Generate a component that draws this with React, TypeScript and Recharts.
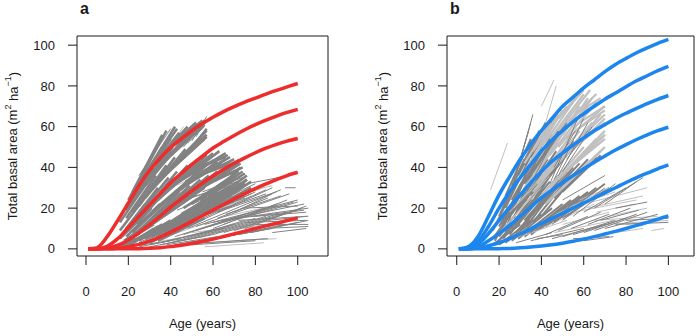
import React from "react"
import { LineChart, Line, XAxis, YAxis, ReferenceArea } from "recharts"

const curveAges = [1, 5, 10, 15, 20, 25, 30, 35, 40, 45, 50, 55, 60, 65, 70, 75, 80, 85, 90, 95, 100]

// panel a: five red fitted curves
const redCurves = [
  [0, 0.5, 6, 14, 22.5, 31, 38.5, 44.5, 49.8, 54, 58, 61.5, 64.6, 67.4, 69.8, 72, 74, 76, 77.8, 79.5, 81.2],
  [0, 0, 1.3, 5, 10.5, 16, 21.5, 27, 32.5, 37, 41.5, 45.5, 49.5, 52.7, 55.7, 58.5, 61, 63.2, 65.2, 67, 68.5],
  [0, 0, 0.4, 1.8, 4.4, 7.8, 11.8, 16, 20.5, 24.5, 28.5, 32.3, 35.8, 39, 42, 44.7, 47.2, 49.4, 51.3, 52.9, 54.2],
  [0, 0, 0, 0.3, 1.1, 2.2, 3.8, 5.8, 8.2, 10.8, 13.5, 16.3, 19, 21.8, 24.5, 27.1, 29.6, 31.9, 34, 36, 37.6],
  [0, 0, 0, 0, 0, 0.1, 0.3, 0.6, 1.1, 1.8, 2.6, 3.6, 4.8, 6.1, 7.4, 8.7, 10, 11.3, 12.6, 13.9, 15.2],
]

// panel b: six blue fitted curves
const blueCurves = [
  [0, 0.8, 6, 16, 26.5, 35.5, 44, 51.5, 58, 64, 70, 74.5, 79, 83, 87, 90.5, 93.5, 96.3, 98.7, 100.9, 102.8],
  [0, 0.3, 3.5, 11, 20, 28, 35, 41.5, 48, 53.5, 58, 62.5, 66.3, 70, 73.5, 76.5, 79.6, 82.5, 85, 87.5, 89.6],
  [0, 0, 2.2, 7.5, 14, 20.5, 26.5, 32.5, 38, 43, 47, 51, 54.5, 58, 61, 64, 66.6, 69, 71.3, 73.4, 75.3],
  [0, 0, 0.9, 4, 7.5, 11.5, 16, 20.5, 25, 29, 32.5, 36, 39.3, 42.5, 45.6, 48.5, 51.2, 53.7, 56, 58, 59.7],
  [0, 0, 0.4, 1.5, 3, 5, 7.3, 9.8, 12.5, 15, 17.5, 20, 22.5, 25, 27.5, 30, 32.6, 35, 37.2, 39.3, 41.2],
  [0, 0, 0, 0, 0.1, 0.2, 0.5, 0.9, 1.4, 2, 2.8, 3.7, 4.8, 6, 7.3, 8.6, 10, 11.5, 13, 14.6, 16.2],
]

// observed plot trajectories: [first age, first BA, last age, last BA]
// panel a, the crowded core of remeasured plots
const plotsACore = [
  [16, 2, 32, 12], [16, 5, 31, 20], [16, 9, 30, 28], [16, 13, 29, 33],
  [19, 2, 36, 12], [19, 6, 35, 22], [19, 10, 34, 30], [19, 15, 33, 36], [19, 19, 32, 40],
  [22, 3, 40, 14], [22, 8, 40, 26], [22, 13, 39, 35], [22, 18, 38, 41], [22, 23, 37, 46], [22, 27, 36, 50],
  [25, 4, 45, 16], [25, 9, 44, 28], [25, 15, 43, 38], [25, 21, 42, 45], [25, 27, 41, 50], [25, 32, 40, 54],
  [28, 5, 50, 19], [28, 11, 49, 31], [28, 18, 48, 41], [28, 25, 47, 49], [28, 31, 46, 54], [28, 36, 44, 57],
  [31, 6, 55, 22], [31, 13, 54, 34], [31, 21, 53, 44], [31, 29, 52, 52], [31, 36, 50, 57], [31, 41, 48, 60],
  [34, 7, 60, 24], [34, 15, 58, 36], [34, 24, 57, 46], [34, 33, 56, 54], [34, 40, 55, 60], [34, 45, 52, 62],
  [37, 8, 65, 26], [37, 17, 62, 38], [37, 27, 60, 47], [37, 36, 57, 55], [37, 44, 56, 61], [37, 48, 55, 63],
  [40, 9, 70, 28], [40, 19, 66, 40], [40, 30, 63, 48], [40, 40, 57, 56], [40, 47, 56, 62],
  [44, 11, 73, 30], [44, 22, 70, 41], [44, 33, 66, 47], [44, 44, 57, 58], [44, 51, 56, 63],
  [48, 13, 75, 32], [48, 25, 72, 42], [48, 37, 67, 46], [48, 47, 57, 59],
  [52, 15, 76, 34], [52, 28, 73, 42], [52, 40, 66, 45], [56, 18, 78, 33], [56, 31, 74, 40],
  [60, 20, 78, 30], [20, 24, 36, 56], [22, 28, 38, 58], [24, 30, 42, 60], [26, 34, 43, 59],
  [18, 4, 40, 20], [21, 5, 46, 24], [24, 7, 52, 27], [27, 9, 56, 30], [30, 16, 55, 40],
  [33, 20, 58, 42], [36, 22, 62, 43], [20, 9, 36, 27], [24, 12, 40, 32], [17, 7, 28, 22],
  [42, 28, 64, 42], [45, 30, 66, 44], [47, 33, 68, 45], [50, 34, 70, 44], [53, 36, 72, 43],
  [46, 20, 70, 36], [50, 22, 72, 38], [54, 24, 74, 38], [58, 26, 75, 37], [42, 14, 68, 30],
  [38, 12, 62, 28], [45, 17, 72, 33], [55, 20, 76, 34], [60, 24, 76, 36], [63, 30, 73, 40],
  [15, 1, 28, 6], [17, 1, 30, 8], [19, 1, 32, 10], [21, 2, 34, 11], [14, 1, 24, 5],
  [26, 2, 44, 10], [30, 3, 50, 13], [34, 4, 56, 15],
]

// panel a, the thinner scattered trajectories
const plotsADark = [
  [21, 24, 35, 52], [25, 36, 40, 59], [46, 50, 57, 63], [48, 52, 56, 60], [50, 53, 57, 65],
  [52, 55, 56, 63], [45, 26, 72, 43], [48, 28, 73, 40], [50, 30, 72, 38], [47, 24, 74, 34],
  [52, 26, 75, 33], [55, 28, 74, 35], [43, 19, 71, 31],
  [15, 1, 40, 10], [18, 2, 45, 13], [20, 2, 50, 16], [22, 3, 55, 18], [25, 3, 60, 20],
  [28, 4, 65, 22], [30, 5, 70, 24], [33, 6, 75, 26], [36, 7, 80, 28], [40, 8, 85, 29],
  [44, 9, 88, 30], [48, 10, 92, 29], [52, 11, 96, 27], [56, 12, 100, 24], [60, 13, 103, 22],
  [64, 14, 105, 20], [68, 15, 104, 18], [72, 14, 105, 16], [76, 13, 104, 14], [80, 12, 105, 12],
  [84, 10, 105, 11], [88, 8, 104, 10], [30, 2, 65, 10], [35, 3, 70, 12], [40, 3, 75, 14],
  [45, 4, 80, 15], [50, 5, 85, 16], [55, 6, 90, 17], [60, 7, 95, 18], [65, 8, 100, 19],
  [70, 9, 102, 20], [75, 10, 104, 21], [38, 2, 62, 6], [42, 2, 70, 7], [48, 3, 76, 8],
  [54, 4, 82, 9], [60, 5, 88, 10], [66, 6, 94, 12], [72, 7, 100, 13], [78, 8, 105, 14],
  [20, 1, 40, 4], [25, 1, 45, 5], [30, 1, 55, 6], [35, 2, 60, 7], [60, 10, 90, 22],
  [65, 12, 95, 24], [70, 14, 100, 23], [55, 16, 85, 27], [62, 18, 90, 28], [58, 20, 80, 30],
  [45, 14, 75, 25], [50, 16, 78, 27], [40, 12, 70, 23], [35, 10, 68, 21], [76, 32, 96, 36],
  [94, 30, 99, 30], [42, 6, 78, 18], [46, 7, 84, 20], [52, 9, 90, 21], [58, 11, 98, 23],
  [62, 15, 86, 25], [66, 17, 92, 26], [70, 18, 88, 27], [74, 20, 100, 21], [80, 16, 103, 19],
  [64, 24, 82, 30], [68, 26, 80, 32], [50, 2, 80, 4], [56, 3, 86, 5], [86, 14, 104, 16],
  [58, 34, 72, 44], [54, 38, 68, 45], [62, 30, 75, 37],
]

const plotsALight = [
  [30, 34, 44, 56], [27, 30, 40, 52], [33, 40, 46, 60], [54, 20, 84, 30], [70, 4, 90, 5],
  [24, 4, 50, 16], [60, 30, 76, 32], [40, 30, 62, 40], [45, 2, 85, 5], [58, 24, 88, 31],
  [66, 16, 92, 22], [50, 8, 80, 12], [38, 6, 60, 14], [46, 36, 60, 44], [62, 8, 96, 14],
  [72, 10, 98, 12], [36, 4, 66, 9], [56, 1, 84, 3], [64, 20, 78, 26],
]

// panel b, dark grey trajectories
const plotsBCore = [
  [17, 2, 30, 12], [17, 5, 29, 22], [17, 9, 28, 32],
  [20, 2, 35, 14], [20, 6, 34, 26], [20, 11, 33, 36], [20, 16, 32, 44],
  [23, 3, 40, 17], [23, 8, 39, 30], [23, 14, 38, 40], [23, 20, 36, 48], [23, 26, 35, 54],
  [26, 4, 45, 20], [26, 10, 44, 33], [26, 17, 43, 44], [26, 24, 41, 52], [26, 31, 39, 58],
  [29, 5, 50, 22], [29, 12, 48, 36], [29, 20, 47, 48], [29, 28, 45, 56], [29, 36, 42, 62],
  [32, 6, 54, 24], [32, 14, 52, 38], [32, 23, 50, 50], [32, 32, 48, 58], [32, 41, 45, 64],
  [35, 7, 58, 26], [35, 16, 55, 40], [35, 26, 53, 52], [35, 36, 50, 60], [35, 45, 47, 66],
  [38, 9, 62, 28], [38, 19, 58, 42], [38, 29, 55, 53], [38, 40, 52, 62],
  [42, 11, 66, 30], [42, 22, 62, 44], [42, 33, 58, 54], [46, 13, 70, 32], [46, 25, 66, 45],
  [50, 15, 72, 30], [50, 28, 68, 46], [18, 4, 26, 20], [21, 8, 30, 30], [24, 12, 33, 38],
  [27, 15, 37, 42], [30, 9, 44, 28], [33, 11, 48, 32], [36, 13, 52, 34], [40, 16, 56, 36],
  [19, 3, 31, 17], [22, 5, 36, 24], [25, 7, 40, 28], [28, 8, 46, 30], [31, 18, 44, 40],
  [34, 20, 48, 44], [37, 24, 50, 46], [21, 12, 29, 27], [24, 16, 32, 34],
]

// panel b, light grey trajectories
const plotsBLightCore = [
  [32, 30, 48, 52], [32, 38, 46, 62], [32, 42, 44, 62],
  [36, 28, 54, 50], [36, 36, 52, 60], [36, 44, 50, 68], [36, 48, 48, 66],
  [40, 26, 60, 50], [40, 34, 58, 58], [40, 42, 56, 65], [40, 50, 55, 72], [40, 54, 52, 70],
  [44, 30, 66, 54], [44, 38, 64, 62], [44, 46, 62, 70], [44, 54, 60, 76], [44, 60, 58, 76],
  [48, 34, 70, 58], [48, 42, 68, 66], [48, 50, 66, 72], [48, 58, 63, 78], [48, 64, 60, 78],
  [52, 38, 70, 56], [52, 46, 70, 64], [52, 54, 70, 70], [52, 62, 66, 76],
  [56, 42, 70, 54], [56, 50, 70, 62], [56, 58, 70, 68], [56, 66, 68, 74],
  [60, 46, 70, 56], [60, 56, 70, 66], [42, 22, 60, 40], [46, 26, 64, 44], [50, 30, 68, 48],
  [54, 34, 70, 50], [38, 32, 50, 50], [42, 38, 54, 56], [46, 50, 58, 70], [50, 56, 62, 74],
  [54, 60, 64, 74], [58, 62, 70, 70],
]

const plotsBLight = [
  [16, 29, 24, 52], [40, 70, 46, 83], [42, 62, 47, 80], [25, 18, 42, 38], [27, 20, 45, 40],
  [20, 8, 40, 30], [22, 10, 42, 34], [24, 12, 44, 36], [60, 22, 90, 30], [62, 20, 88, 26],
  [55, 18, 85, 24], [65, 14, 95, 16], [70, 12, 100, 14], [75, 8, 88, 10], [92, 9, 98, 10],
  [50, 12, 72, 18], [40, 10, 65, 22], [45, 16, 68, 28], [52, 20, 75, 28], [58, 24, 72, 30],
  [30, 6, 52, 14], [46, 8, 74, 14], [66, 18, 84, 22], [72, 16, 90, 20], [80, 12, 96, 14],
]

const plotsBDark = [
  [29, 40, 36, 66], [28, 36, 35, 62], [27, 34, 34, 58], [30, 30, 40, 48], [33, 28, 44, 50],
  [44, 32, 58, 66], [46, 34, 60, 64], [48, 36, 62, 62], [50, 38, 64, 60], [55, 16, 75, 32],
  [60, 18, 80, 30], [65, 20, 88, 35], [70, 22, 85, 33], [45, 5, 70, 12], [50, 6, 75, 14],
  [55, 7, 80, 15], [60, 8, 85, 17], [65, 9, 90, 18], [70, 10, 95, 17], [75, 12, 100, 13],
  [80, 14, 100, 15], [35, 4, 60, 10], [38, 5, 50, 7], [55, 5, 72, 6], [60, 4, 74, 6],
  [28, 3, 45, 8], [75, 20, 90, 23], [50, 24, 70, 36], [30, 6, 50, 20], [35, 8, 55, 24],
  [40, 10, 60, 26], [45, 12, 65, 28], [50, 14, 70, 30], [42, 7, 62, 16], [48, 9, 68, 18],
  [62, 12, 82, 20], [68, 14, 86, 19], [54, 10, 72, 17], [46, 40, 56, 58], [52, 44, 62, 58],
]

const xTicks = [0, 20, 40, 60, 80, 100]
const yTicks = [0, 20, 40, 60, 80, 100]

const FONT = "'Liberation Sans', Arial, Helvetica, sans-serif"
const INK = "#1a1a1a"

const YLabel = ({ viewBox }: any) => {
  const cx = viewBox.x + viewBox.width - 64.5
  const cy = viewBox.y + viewBox.height / 2
  return (
    <text
      transform={`translate(${cx},${cy}) rotate(-90)`}
      textAnchor="middle"
      dominantBaseline="central"
      fontSize={13}
      fontFamily={FONT}
      fill={INK}
    >
      Total basal area (m<tspan dy={-5} fontSize={9}>2</tspan>
      <tspan dy={5}> ha</tspan>
      <tspan dy={-5} fontSize={9}>−1</tspan>
      <tspan dy={5}>)</tspan>
    </text>
  )
}

const toLine = (s: number[]) => [
  { x: s[0], y: s[1] },
  { x: s[2], y: s[3] },
]

const segs = (rows: number[][], tag: string, color: string, width: number) =>
  rows.map((s, i) => (
    <Line
      key={`${tag}${i}`}
      data={toLine(s)}
      dataKey="y"
      stroke={color}
      strokeWidth={width}
      dot={false}
      activeDot={false}
      isAnimationActive={false}
    />
  ))

function Panel({ title, curves, color, layers, xDomain, yAxisWidth, rightMargin }: any) {
  return (
    <div style={{ position: "relative", width: 350, height: 336 }}>
      <div
        style={{
          position: "absolute",
          left: yAxisWidth + 3,
          top: 1,
          fontFamily: FONT,
          fontWeight: "bold",
          fontSize: 16,
          lineHeight: "16px",
          color: INK,
        }}
      >
        {title}
      </div>
      <LineChart width={350} height={336} margin={{ top: 36, right: rightMargin, bottom: 0, left: 0 }}>
        <XAxis
          type="number"
          dataKey="x"
          domain={xDomain}
          allowDataOverflow
          ticks={xTicks}
          height={80}
          axisLine={false}
          tickSize={9}
          tickMargin={22}
          stroke={INK}
          tick={{ fill: INK, fontSize: 13, fontFamily: FONT }}
          label={{ value: "Age (years)", position: "insideBottom", offset: 8, fill: INK, fontSize: 13, fontFamily: FONT }}
        />
        <YAxis
          type="number"
          domain={[-3.5, 104.5]}
          allowDataOverflow
          ticks={yTicks}
          width={yAxisWidth}
          axisLine={false}
          tickSize={9}
          tickMargin={13}
          stroke={INK}
          tick={{ fill: INK, fontSize: 13, fontFamily: FONT }}
          label={<YLabel />}
        />
        <ReferenceArea
          x1={xDomain[0]}
          x2={xDomain[1]}
          y1={-3.5}
          y2={104.5}
          fill="none"
          stroke={INK}
          strokeWidth={1}
          ifOverflow="visible"
        />
        {layers.map((l: any) => segs(l.rows, l.tag, l.color, l.width))}
        {curves.map((c: number[], i: number) => (
          <Line
            key={`c${i}`}
            data={curveAges.map((a, j) => ({ x: a, y: c[j] }))}
            dataKey="y"
            type="monotone"
            stroke={color}
            strokeWidth={3.5}
            dot={false}
            activeDot={false}
            isAnimationActive={false}
          />
        ))}
      </LineChart>
    </div>
  )
}

const GREY = "#828282"
const LIGHT = "#c0c0c0"

export default function App() {
  return (
    <div style={{ display: "flex", width: 700, height: 336, background: "#fff" }}>
      <style>{"body{margin:0}"}</style>
      <Panel
        title="a"
        curves={redCurves}
        color="#ee2c2c"
        layers={[
          { rows: plotsALight, tag: "al", color: LIGHT, width: 1 },
          { rows: plotsACore, tag: "ac", color: GREY, width: 2.6 },
          { rows: plotsADark, tag: "ad", color: GREY, width: 1 },
        ]}
        xDomain={[-4.25, 114.3]}
        yAxisWidth={77}
        rightMargin={22}
      />
      <Panel
        title="b"
        curves={blueCurves}
        color="#1c86ee"
        layers={[
          { rows: plotsBCore, tag: "bc", color: GREY, width: 2 },
          { rows: plotsBLightCore, tag: "blc", color: LIGHT, width: 2.2 },
          { rows: plotsBLight, tag: "bl", color: LIGHT, width: 1 },
          { rows: plotsBDark, tag: "bd", color: GREY, width: 1 },
        ]}
        xDomain={[-4.6, 112.1]}
        yAxisWidth={97}
        rightMargin={6}
      />
    </div>
  )
}
